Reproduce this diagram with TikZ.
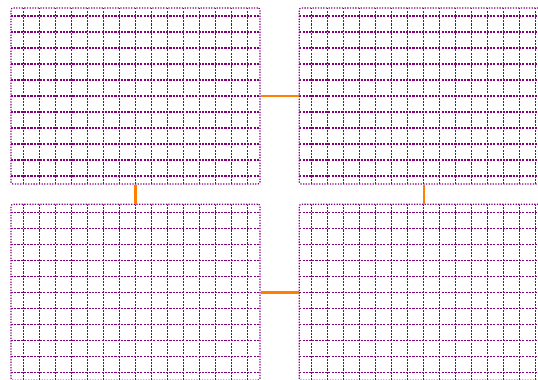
\documentclass[tikz,border=0pt]{standalone}
\usetikzlibrary{positioning}

\begin{document}
\begin{tikzpicture}[
    panel/.style={
      draw=violet,
      densely dotted,
      line width=0.9pt,
      rounded corners=1.5pt,
      inner sep=0pt,
      minimum width=6.225cm,
      minimum height=4.4cm,
      path picture={
        \draw[violet, solid, line width=0.75pt, dash pattern=on 1.5pt off 0.8pt]
          (path picture bounding box.south west) grid[step=0.4cm]
          (path picture bounding box.north east);
      }
    },
    link/.style={draw=orange, line width=1.8pt}
  ]
    \useasboundingbox (-0.1675,-0.0925) rectangle (13.2825,9.4075);

    \node[panel] (topleft) at (3.22,7.0075) {};
    \node[panel, right=0.95cm of topleft] (topright) {};
    \node[panel, below=0.475cm of topleft] (bottomleft) {};
    \node[panel, below=0.475cm of topright] (bottomright) {};

    \draw[link] (topleft) -- (topright);
    \draw[link] (topleft) -- (bottomleft);
    \draw[link] (topright) -- (bottomright);
    \draw[link] (bottomleft) -- (bottomright);
  \end{tikzpicture}
\end{document}
